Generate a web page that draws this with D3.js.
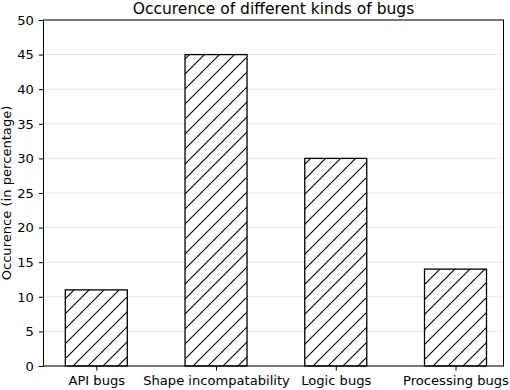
<!DOCTYPE html>
<html>
<head>
<meta charset="utf-8">
<script src="https://cdn.jsdelivr.net/npm/d3@7"></script>
<style>
html, body { margin: 0; padding: 0; background: #fff; }
svg { display: block; font-family: "DejaVu Sans", sans-serif; }
</style>
</head>
<body>
<svg id="chart" width="510" height="390"></svg>
<script>
const categories = ["API bugs", "Shape incompatability", "Logic bugs", "Processing bugs"];
const values = [11, 45, 30, 14];
const yTicks = [0, 5, 10, 15, 20, 25, 30, 35, 40, 45, 50];
const title = "Occurence of different kinds of bugs";
const yLabel = "Occurence (in percentage)";

const svg = d3.select("#chart");
const plot = { left: 43.5, right: 503.5, top: 20, bottom: 366 };

const x = d3.scalePoint().domain(categories).range([96.3, 455.5]);
const barW = 62;
const y = d3.scaleLinear().domain([0, 50]).range([plot.bottom, plot.top]);

// hatch pattern
const defs = svg.append("defs");
const pat = defs.append("pattern")
  .attr("id", "hatch").attr("patternUnits", "userSpaceOnUse")
  .attr("x", 4).attr("y", 0).attr("width", 15).attr("height", 15);
pat.append("rect").attr("width", 15).attr("height", 15).attr("fill", "#fff");
pat.append("path")
  .attr("d", "M-1,16 L16,-1 M-4,4 L4,-4 M11,19 L19,11")
  .attr("stroke", "#000").attr("stroke-width", 1.1).attr("fill", "none");

// grid
svg.append("g").selectAll("line").data(yTicks).join("line")
  .attr("x1", plot.left).attr("x2", plot.right)
  .attr("y1", d => y(d)).attr("y2", d => y(d))
  .attr("stroke", "#e6e6e6").attr("stroke-width", 1);

// bars
svg.append("g").selectAll("rect").data(values).join("rect")
  .attr("x", (d, i) => x(categories[i]) - barW / 2)
  .attr("width", barW)
  .attr("y", d => y(d))
  .attr("height", d => y(0) - y(d))
  .attr("fill", "url(#hatch)")
  .attr("stroke", "#000").attr("stroke-width", 1.3);

// spines
svg.append("rect")
  .attr("x", plot.left).attr("y", plot.top)
  .attr("width", plot.right - plot.left).attr("height", plot.bottom - plot.top)
  .attr("fill", "none").attr("stroke", "#000").attr("stroke-width", 1);

// axes
const xAxis = svg.append("g").attr("transform", `translate(0,${plot.bottom})`)
  .call(d3.axisBottom(x).tickSizeOuter(0).tickSize(4.6).tickPadding(5.5));
xAxis.select(".domain").remove();
const yAxis = svg.append("g").attr("transform", `translate(${plot.left},0)`)
  .call(d3.axisLeft(y).tickValues(yTicks).tickSize(4.6).tickPadding(5));
yAxis.select(".domain").remove();
svg.selectAll(".tick text").attr("font-size", 13.1).attr("fill", "#000").attr("font-family", "DejaVu Sans");
svg.selectAll(".tick line").attr("stroke", "#000").attr("stroke-width", 1);

// title
svg.append("text")
  .attr("x", (plot.left + plot.right) / 2).attr("y", 13.5)
  .attr("text-anchor", "middle").attr("font-size", 15.5).attr("fill", "#000")
  .text(title);

// y label
svg.append("text")
  .attr("transform", `translate(11,${(plot.top + plot.bottom) / 2}) rotate(-90)`)
  .attr("text-anchor", "middle").attr("font-size", 13.1).attr("fill", "#000")
  .text(yLabel);
</script>
</body>
</html>
